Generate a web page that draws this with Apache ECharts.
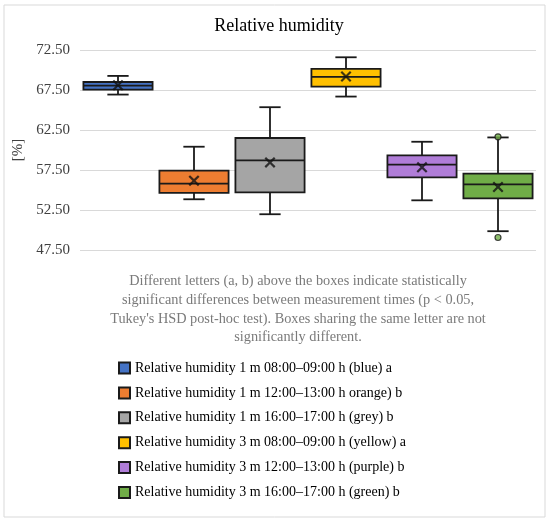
<!DOCTYPE html>
<html lang="en">
<head>
    <meta charset="UTF-8">
    <title>Relative humidity</title>
    <style>
        html, body { margin: 0; padding: 0; background: #fff; }
    </style>
</head>
<body>
<div id="main" style="width: 550px;height:521px;"></div>
<script src="https://cdn.jsdelivr.net/npm/echarts@6/dist/echarts.min.js"></script>
<script>
    // series names (legend) and colours
    var names = [
        'Relative humidity 1 m 08:00\u201309:00 h (blue) a',
        'Relative humidity 1 m 12:00\u201313:00 h orange) b',
        'Relative humidity 1 m 16:00\u201317:00 h (grey) b',
        'Relative humidity 3 m 08:00\u201309:00 h (yellow) a',
        'Relative humidity 3 m 12:00\u201313:00 h (purple) b',
        'Relative humidity 3 m 16:00\u201317:00 h (green) b'
    ];
    var colors = ['#4472c4', '#ed7d31', '#a5a5a5', '#ffc000', '#b07dd8', '#70ad47'];

    // box statistics: min whisker, Q1, median, Q3, max whisker
    var whiskerLow  = [66.93, 53.84, 51.97, 66.68, 53.71, 49.85];
    var q1          = [67.55, 54.63, 54.71, 67.93, 56.58, 53.96];
    var median      = [68.05, 55.79, 58.70, 69.13, 58.16, 55.71];
    var q3          = [68.50, 57.41, 61.50, 70.13, 59.32, 57.04];
    var whiskerHigh = [69.26, 60.41, 65.35, 71.59, 61.03, 61.57];
    var means       = [68.10, 56.17, 58.45, 69.18, 57.83, 55.38];

    // outliers: [box index, value]
    var outliers = [[5, 61.65], [5, 49.06]];

    var yTicks = { min: 47.5, max: 72.5, step: 5 };

    var caption = [
        'Different letters (a, b) above the boxes indicate statistically',
        'significant differences between measurement times (p < 0.05,',
        'Tukey\'s HSD post-hoc test). Boxes sharing the same letter are not',
        'significantly different.'
    ].join('\n');

    var FONT = '"Liberation Serif", "DejaVu Serif", serif';

    var myChart = echarts.init(document.getElementById('main'));

    function renderBox(params, api) {
        var x = api.value(0);
        var pLo = api.coord([x, api.value(1)]);
        var pQ1 = api.coord([x, api.value(2)]);
        var pMd = api.coord([x, api.value(3)]);
        var pQ3 = api.coord([x, api.value(4)]);
        var pHi = api.coord([x, api.value(5)]);
        var band = api.size([1, 0])[0];
        var half = band * 0.455;
        var cap = band * 0.14;
        var cx = pMd[0];
        var stroke = { stroke: '#1a1a1a', lineWidth: 1.8 };
        return {
            type: 'group',
            children: [
                { type: 'line', shape: { x1: cx, y1: pHi[1], x2: cx, y2: pQ3[1] }, style: stroke },
                { type: 'line', shape: { x1: cx, y1: pQ1[1], x2: cx, y2: pLo[1] }, style: stroke },
                { type: 'line', shape: { x1: cx - cap, y1: pHi[1], x2: cx + cap, y2: pHi[1] }, style: stroke },
                { type: 'line', shape: { x1: cx - cap, y1: pLo[1], x2: cx + cap, y2: pLo[1] }, style: stroke },
                {
                    type: 'rect',
                    shape: { x: cx - half, y: pQ3[1], width: half * 2, height: pQ1[1] - pQ3[1] },
                    style: { fill: api.visual('color'), stroke: '#1a1a1a', lineWidth: 1.8 }
                },
                { type: 'line', shape: { x1: cx - half, y1: pMd[1], x2: cx + half, y2: pMd[1] }, style: stroke }
            ]
        };
    }

    var series = names.map(function (n, i) {
        return {
            name: n,
            type: 'custom',
            renderItem: renderBox,
            itemStyle: { color: colors[i], borderColor: '#1a1a1a', borderWidth: 1 },
            encode: { x: 0, y: [1, 2, 3, 4, 5] },
            data: [[i, whiskerLow[i], q1[i], median[i], q3[i], whiskerHigh[i]]],
            z: 2
        };
    });

    series.push({
        name: 'mean',
        type: 'scatter',
        symbol: 'path://M0,1.4L1.4,0L5,3.6L8.6,0L10,1.4L6.4,5L10,8.6L8.6,10L5,6.4L1.4,10L0,8.6L3.6,5Z',
        symbolSize: 11,
        itemStyle: { color: '#111' },
        data: means.map(function (m, i) { return [i, m]; }),
        z: 5
    });
    series.push({
        name: 'outliers',
        type: 'scatter',
        symbol: 'circle',
        symbolSize: 6,
        itemStyle: { color: colors[5], borderColor: '#1a1a1a', borderWidth: 1.2 },
        data: outliers,
        z: 5
    });

    var option = {
        backgroundColor: '#fff',
        animation: false,
        title: [
            {
                text: 'Relative humidity',
                left: 274,
                top: 12,
                textAlign: 'center',
                textStyle: { fontFamily: FONT, fontSize: 18, fontWeight: 'normal', color: '#000' }
            },
            {
                text: caption,
                left: 293,
                top: 267,
                textAlign: 'center',
                textStyle: { fontFamily: FONT, fontSize: 14.3, fontWeight: 'normal', color: '#7a7a7a', lineHeight: 18.7, align: 'center' }
            }
        ],
        graphic: [{
            type: 'rect',
            shape: { x: 4, y: 5, width: 541, height: 512 },
            style: { fill: 'none', stroke: '#d9d9d9', lineWidth: 1 },
            silent: true
        }],
        legend: {
            data: names,
            orient: 'vertical',
            left: 118,
            top: 361,
            height: 160,
            padding: 0,
            icon: 'rect',
            itemWidth: 11,
            itemHeight: 11,
            itemGap: 10.9,
            textStyle: { fontFamily: FONT, fontSize: 14, color: '#000' }
        },
        grid: { left: 80, right: 14, top: 50, bottom: 271 },
        xAxis: {
            type: 'category',
            data: names,
            axisLabel: { show: false },
            axisTick: { show: false },
            axisLine: { show: false },
            splitLine: { show: false }
        },
        yAxis: {
            type: 'value',
            min: yTicks.min,
            max: yTicks.max,
            interval: yTicks.step,
            name: '[%]',
            nameLocation: 'middle',
            nameRotate: 90,
            nameGap: 54,
            nameTextStyle: { fontFamily: FONT, fontSize: 15, color: '#404040' },
            axisLine: { show: false },
            axisTick: { show: false },
            axisLabel: {
                fontFamily: FONT, fontSize: 15, color: '#404040', margin: 10,
                formatter: function (v) { return v.toFixed(2); }
            },
            splitLine: { lineStyle: { color: '#d9d9d9', width: 1 } }
        },
        series: series
    };

    myChart.setOption(option);
</script>
</body>
</html>
